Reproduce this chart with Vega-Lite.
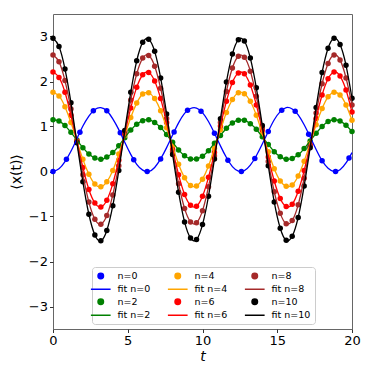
{
"$schema": "https://vega.github.io/schema/vega-lite/v6.json",
"width": 299, "height": 315,
"autosize": {"type": "none"},
"padding": {"left": 53, "top": 14, "right": 24, "bottom": 47},
"config": {
  "font": "DejaVu Sans",
  "view": {"stroke": "#666666", "strokeWidth": 1},
  "axis": {"grid": false, "domain": false, "tickColor": "#333333", "tickSize": 3.5, "labelFontSize": 13, "labelColor": "#000000", "titleFontSize": 14, "titleColor": "#000000", "titleFontWeight": "normal", "labelPadding": 2, "labelFlush": false}
},
"datasets": {
"fits": [
{"t":0,"n=2":1.15,"n=4":1.76,"n=6":2.21,"n=8":2.59,"n=10":2.96,"fit n=0":0,"fit n=2":1.15,"fit n=4":1.76,"fit n=6":2.21,"fit n=8":2.59,"fit n=10":2.96},
{"t":0.4,"n=2":1.12,"n=4":1.68,"n=6":2.09,"n=8":2.44,"n=10":2.78,"fit n=0":0.06,"fit n=2":1.12,"fit n=4":1.68,"fit n=6":2.09,"fit n=8":2.44,"fit n=10":2.78},
{"t":0.8,"n=2":1.02,"n=4":1.44,"n=6":1.76,"n=8":2.02,"n=10":2.28,"fit n=0":0.22,"fit n=2":1.02,"fit n=4":1.44,"fit n=6":1.76,"fit n=8":2.02,"fit n=10":2.28},
{"t":1.2,"n=2":0.87,"n=4":1.09,"n=6":1.25,"n=8":1.39,"n=10":1.53,"fit n=0":0.45,"fit n=2":0.87,"fit n=4":1.09,"fit n=6":1.25,"fit n=8":1.39,"fit n=10":1.53},
{"t":1.6,"n=2":0.70,"n=4":0.68,"n=6":0.67,"n=8":0.66,"n=10":0.64,"fit n=0":0.73,"fit n=2":0.70,"fit n=4":0.68,"fit n=6":0.67,"fit n=8":0.66,"fit n=10":0.64},
{"t":2.0,"n=2":0.53,"n=4":0.27,"n=6":0.09,"n=8":-0.07,"n=10":-0.23,"fit n=0":1.01,"fit n=2":0.53,"fit n=4":0.27,"fit n=6":0.09,"fit n=8":-0.07,"fit n=10":-0.23},
{"t":2.4,"n=2":0.39,"n=4":-0.06,"n=6":-0.40,"n=8":-0.68,"n=10":-0.95,"fit n=0":1.23,"fit n=2":0.39,"fit n=4":-0.06,"fit n=6":-0.40,"fit n=8":-0.68,"fit n=10":-0.95},
{"t":2.8,"n=2":0.30,"n=4":-0.28,"n=6":-0.70,"n=8":-1.06,"n=10":-1.41,"fit n=0":1.38,"fit n=2":0.30,"fit n=4":-0.28,"fit n=6":-0.70,"fit n=8":-1.06,"fit n=10":-1.41},
{"t":3.2,"n=2":0.27,"n=4":-0.34,"n=6":-0.79,"n=8":-1.17,"n=10":-1.54,"fit n=0":1.42,"fit n=2":0.27,"fit n=4":-0.34,"fit n=6":-0.79,"fit n=8":-1.17,"fit n=10":-1.54},
{"t":3.6,"n=2":0.32,"n=4":-0.23,"n=6":-0.64,"n=8":-0.98,"n=10":-1.31,"fit n=0":1.35,"fit n=2":0.32,"fit n=4":-0.23,"fit n=6":-0.64,"fit n=8":-0.98,"fit n=10":-1.31},
{"t":4.0,"n=2":0.42,"n=4":0.02,"n=6":-0.27,"n=8":-0.52,"n=10":-0.76,"fit n=0":1.17,"fit n=2":0.42,"fit n=4":0.02,"fit n=6":-0.27,"fit n=8":-0.52,"fit n=10":-0.76},
{"t":4.4,"n=2":0.57,"n=4":0.39,"n=6":0.25,"n=8":0.13,"n=10":0.02,"fit n=0":0.93,"fit n=2":0.57,"fit n=4":0.39,"fit n=6":0.25,"fit n=8":0.13,"fit n=10":0.02},
{"t":4.8,"n=2":0.75,"n=4":0.80,"n=6":0.84,"n=8":0.87,"n=10":0.91,"fit n=0":0.65,"fit n=2":0.75,"fit n=4":0.80,"fit n=6":0.84,"fit n=8":0.87,"fit n=10":0.91},
{"t":5.2,"n=2":0.92,"n=4":1.20,"n=6":1.41,"n=8":1.59,"n=10":1.76,"fit n=0":0.38,"fit n=2":0.92,"fit n=4":1.20,"fit n=6":1.41,"fit n=8":1.59,"fit n=10":1.76},
{"t":5.6,"n=2":1.05,"n=4":1.52,"n=6":1.87,"n=8":2.17,"n=10":2.46,"fit n=0":0.16,"fit n=2":1.05,"fit n=4":1.52,"fit n=6":1.87,"fit n=8":2.17,"fit n=10":2.46},
{"t":6.0,"n=2":1.13,"n=4":1.72,"n=6":2.15,"n=8":2.52,"n=10":2.87,"fit n=0":0.03,"fit n=2":1.13,"fit n=4":1.72,"fit n=6":2.15,"fit n=8":2.52,"fit n=10":2.87},
{"t":6.4,"n=2":1.15,"n=4":1.75,"n=6":2.20,"n=8":2.58,"n=10":2.94,"fit n=0":0.00,"fit n=2":1.15,"fit n=4":1.75,"fit n=6":2.20,"fit n=8":2.58,"fit n=10":2.94},
{"t":6.8,"n=2":1.09,"n=4":1.62,"n=6":2.01,"n=8":2.34,"n=10":2.67,"fit n=0":0.09,"fit n=2":1.09,"fit n=4":1.62,"fit n=6":2.01,"fit n=8":2.34,"fit n=10":2.67},
{"t":7.2,"n=2":0.98,"n=4":1.35,"n=6":1.62,"n=8":1.85,"n=10":2.08,"fit n=0":0.28,"fit n=2":0.98,"fit n=4":1.35,"fit n=6":1.62,"fit n=8":1.85,"fit n=10":2.08},
{"t":7.6,"n=2":0.82,"n=4":0.97,"n=6":1.09,"n=8":1.18,"n=10":1.28,"fit n=0":0.53,"fit n=2":0.82,"fit n=4":0.97,"fit n=6":1.09,"fit n=8":1.18,"fit n=10":1.28},
{"t":8.0,"n=2":0.65,"n=4":0.56,"n=6":0.49,"n=8":0.44,"n=10":0.38,"fit n=0":0.81,"fit n=2":0.65,"fit n=4":0.56,"fit n=6":0.49,"fit n=8":0.44,"fit n=10":0.38},
{"t":8.4,"n=2":0.48,"n=4":0.16,"n=6":-0.07,"n=8":-0.27,"n=10":-0.46,"fit n=0":1.08,"fit n=2":0.48,"fit n=4":0.16,"fit n=6":-0.07,"fit n=8":-0.27,"fit n=10":-0.46},
{"t":8.8,"n=2":0.35,"n=4":-0.14,"n=6":-0.51,"n=8":-0.82,"n=10":-1.12,"fit n=0":1.29,"fit n=2":0.35,"fit n=4":-0.14,"fit n=6":-0.51,"fit n=8":-0.82,"fit n=10":-1.12},
{"t":9.2,"n=2":0.28,"n=4":-0.31,"n=6":-0.75,"n=8":-1.12,"n=10":-1.48,"fit n=0":1.40,"fit n=2":0.28,"fit n=4":-0.31,"fit n=6":-0.75,"fit n=8":-1.12,"fit n=10":-1.48},
{"t":9.6,"n=2":0.28,"n=4":-0.32,"n=6":-0.77,"n=8":-1.14,"n=10":-1.51,"fit n=0":1.41,"fit n=2":0.28,"fit n=4":-0.32,"fit n=6":-0.77,"fit n=8":-1.14,"fit n=10":-1.51},
{"t":10.0,"n=2":0.34,"n=4":-0.17,"n=6":-0.55,"n=8":-0.87,"n=10":-1.18,"fit n=0":1.31,"fit n=2":0.34,"fit n=4":-0.17,"fit n=6":-0.55,"fit n=8":-0.87,"fit n=10":-1.18},
{"t":10.4,"n=2":0.46,"n=4":0.12,"n=6":-0.13,"n=8":-0.34,"n=10":-0.55,"fit n=0":1.11,"fit n=2":0.46,"fit n=4":0.12,"fit n=6":-0.13,"fit n=8":-0.34,"fit n=10":-0.55},
{"t":10.8,"n=2":0.63,"n=4":0.51,"n=6":0.42,"n=8":0.35,"n=10":0.28,"fit n=0":0.85,"fit n=2":0.63,"fit n=4":0.51,"fit n=6":0.42,"fit n=8":0.35,"fit n=10":0.28},
{"t":11.2,"n=2":0.80,"n=4":0.92,"n=6":1.01,"n=8":1.09,"n=10":1.17,"fit n=0":0.57,"fit n=2":0.80,"fit n=4":0.92,"fit n=6":1.01,"fit n=8":1.09,"fit n=10":1.17},
{"t":11.6,"n=2":0.96,"n=4":1.31,"n=6":1.56,"n=8":1.78,"n=10":1.99,"fit n=0":0.31,"fit n=2":0.96,"fit n=4":1.31,"fit n=6":1.56,"fit n=8":1.78,"fit n=10":1.99},
{"t":12.0,"n=2":1.08,"n=4":1.60,"n=6":1.98,"n=8":2.30,"n=10":2.61,"fit n=0":0.11,"fit n=2":1.08,"fit n=4":1.60,"fit n=6":1.98,"fit n=8":2.30,"fit n=10":2.61},
{"t":12.4,"n=2":1.14,"n=4":1.75,"n=6":2.19,"n=8":2.56,"n=10":2.93,"fit n=0":0.01,"fit n=2":1.14,"fit n=4":1.75,"fit n=6":2.19,"fit n=8":2.56,"fit n=10":2.93},
{"t":12.8,"n=2":1.14,"n=4":1.73,"n=6":2.17,"n=8":2.54,"n=10":2.90,"fit n=0":0.02,"fit n=2":1.14,"fit n=4":1.73,"fit n=6":2.17,"fit n=8":2.54,"fit n=10":2.90},
{"t":13.2,"n=2":1.06,"n=4":1.56,"n=6":1.92,"n=8":2.23,"n=10":2.52,"fit n=0":0.14,"fit n=2":1.06,"fit n=4":1.56,"fit n=6":1.92,"fit n=8":2.23,"fit n=10":2.52},
{"t":13.6,"n=2":0.94,"n=4":1.25,"n=6":1.48,"n=8":1.67,"n=10":1.86,"fit n=0":0.35,"fit n=2":0.94,"fit n=4":1.25,"fit n=6":1.48,"fit n=8":1.67,"fit n=10":1.86},
{"t":14.0,"n=2":0.77,"n=4":0.85,"n=6":0.92,"n=8":0.97,"n=10":1.02,"fit n=0":0.61,"fit n=2":0.77,"fit n=4":0.85,"fit n=6":0.92,"fit n=8":0.97,"fit n=10":1.02},
{"t":14.4,"n=2":0.60,"n=4":0.44,"n=6":0.32,"n=8":0.22,"n=10":0.13,"fit n=0":0.89,"fit n=2":0.60,"fit n=4":0.44,"fit n=6":0.32,"fit n=8":0.22,"fit n=10":0.13},
{"t":14.8,"n=2":0.44,"n=4":0.06,"n=6":-0.21,"n=8":-0.45,"n=10":-0.68,"fit n=0":1.15,"fit n=2":0.44,"fit n=4":0.06,"fit n=6":-0.21,"fit n=8":-0.45,"fit n=10":-0.68},
{"t":15.2,"n=2":0.33,"n=4":-0.21,"n=6":-0.60,"n=8":-0.93,"n=10":-1.26,"fit n=0":1.33,"fit n=2":0.33,"fit n=4":-0.21,"fit n=6":-0.60,"fit n=8":-0.93,"fit n=10":-1.26},
{"t":15.6,"n=2":0.27,"n=4":-0.33,"n=6":-0.78,"n=8":-1.16,"n=10":-1.53,"fit n=0":1.42,"fit n=2":0.27,"fit n=4":-0.33,"fit n=6":-0.78,"fit n=8":-1.16,"fit n=10":-1.53},
{"t":16.0,"n=2":0.29,"n=4":-0.30,"n=6":-0.73,"n=8":-1.09,"n=10":-1.44,"fit n=0":1.39,"fit n=2":0.29,"fit n=4":-0.30,"fit n=6":-0.73,"fit n=8":-1.09,"fit n=10":-1.44},
{"t":16.4,"n=2":0.37,"n=4":-0.10,"n=6":-0.44,"n=8":-0.74,"n=10":-1.02,"fit n=0":1.26,"fit n=2":0.37,"fit n=4":-0.10,"fit n=6":-0.44,"fit n=8":-0.74,"fit n=10":-1.02},
{"t":16.8,"n=2":0.51,"n=4":0.23,"n=6":0.02,"n=8":-0.15,"n=10":-0.32,"fit n=0":1.04,"fit n=2":0.51,"fit n=4":0.23,"fit n=6":0.02,"fit n=8":-0.15,"fit n=10":-0.32},
{"t":17.2,"n=2":0.68,"n=4":0.63,"n=6":0.59,"n=8":0.56,"n=10":0.53,"fit n=0":0.77,"fit n=2":0.68,"fit n=4":0.63,"fit n=6":0.59,"fit n=8":0.56,"fit n=10":0.53},
{"t":17.6,"n=2":0.85,"n=4":1.04,"n=6":1.18,"n=8":1.30,"n=10":1.42,"fit n=0":0.49,"fit n=2":0.85,"fit n=4":1.04,"fit n=6":1.18,"fit n=8":1.30,"fit n=10":1.42},
{"t":18.0,"n=2":1.00,"n=4":1.40,"n=6":1.70,"n=8":1.95,"n=10":2.20,"fit n=0":0.24,"fit n=2":1.00,"fit n=4":1.40,"fit n=6":1.70,"fit n=8":1.95,"fit n=10":2.20},
{"t":18.4,"n=2":1.11,"n=4":1.66,"n=6":2.06,"n=8":2.40,"n=10":2.74,"fit n=0":0.07,"fit n=2":1.11,"fit n=4":1.66,"fit n=6":2.06,"fit n=8":2.40,"fit n=10":2.74},
{"t":18.8,"n=2":1.15,"n=4":1.76,"n=6":2.21,"n=8":2.59,"n=10":2.96,"fit n=0":0.00,"fit n=2":1.15,"fit n=4":1.76,"fit n=6":2.21,"fit n=8":2.59,"fit n=10":2.96},
{"t":19.2,"n=2":1.12,"n=4":1.70,"n=6":2.12,"n=8":2.48,"n=10":2.82,"fit n=0":0.04,"fit n=2":1.12,"fit n=4":1.70,"fit n=6":2.12,"fit n=8":2.48,"fit n=10":2.82},
{"t":19.6,"n=2":1.03,"n=4":1.48,"n=6":1.81,"n=8":2.08,"n=10":2.36,"fit n=0":0.19,"fit n=2":1.03,"fit n=4":1.48,"fit n=6":1.81,"fit n=8":2.08,"fit n=10":2.36},
{"t":20.0,"n=2":0.89,"n=4":1.14,"n=6":1.32,"n=8":1.48,"n=10":1.63,"fit n=0":0.42,"fit n=2":0.89,"fit n=4":1.14,"fit n=6":1.32,"fit n=8":1.48,"fit n=10":1.63}
],
"blue": [
{"t":0,"n=0":0},{"t":0.9,"n=0":0.27},{"t":1.8,"n=0":0.87},{"t":2.7,"n=0":1.35},{"t":3.6,"n=0":1.35},{"t":4.5,"n=0":0.86},{"t":5.4,"n=0":0.26},{"t":6.3,"n=0":0.0},{"t":7.2,"n=0":0.28},{"t":8.1,"n=0":0.88},{"t":9.0,"n=0":1.36},{"t":9.9,"n=0":1.34},{"t":10.8,"n=0":0.85},{"t":11.7,"n=0":0.25},{"t":12.6,"n=0":0.0},{"t":13.5,"n=0":0.29},{"t":14.4,"n=0":0.89},{"t":15.3,"n=0":1.36},{"t":16.2,"n=0":1.34},{"t":17.1,"n=0":0.83},{"t":18.0,"n=0":0.24},{"t":18.9,"n=0":0.0},{"t":19.8,"n=0":0.30}
]
},
"encoding": {
  "x": {"field": "t", "type": "quantitative", "scale": {"domain": [0, 20], "nice": false, "zero": false}, "axis": {"values": [0, 5, 10, 15, 20], "title": "t", "titleFontStyle": "italic", "titlePadding": 2}},
  "y": {"field": "y", "type": "quantitative", "scale": {"domain": [-3.5, 3.5], "nice": false}, "axis": {"values": [-3, -2, -1, 0, 1, 2, 3], "title": "⟨x(t)⟩", "titlePadding": 5}},
  "color": {"field": "series", "type": "nominal",
    "scale": {"domain": ["n=0","fit n=0","n=2","fit n=2","n=4","fit n=4","n=6","fit n=6","n=8","fit n=8","n=10","fit n=10"],
              "range": ["#0000ff","#0000ff","#008000","#008000","#ffa500","#ffa500","#ff0000","#ff0000","#a52a2a","#a52a2a","#000000","#000000"]},
    "legend": {"orient": "none", "legendX": 39, "legendY": 253, "columns": 3, "title": null, "padding": 4,
      "strokeColor": "#cccccc", "fillColor": "#ffffff", "cornerRadius": 3, "labelFontSize": 9.5, "labelColor": "#000000",
      "labelOffset": 12, "columnPadding": 13, "rowPadding": 1.5, "symbolSize": 30, "symbolStrokeWidth": 1.5, "symbolOpacity": 1}
  }
},
"layer": [
  {"data": {"name": "blue"}, "transform": [{"fold": ["n=0"], "as": ["series", "y"]}],
   "mark": {"type": "point", "filled": true, "size": 30, "opacity": 1, "strokeWidth": 0},
   "encoding": {
     "shape": {"field": "series", "type": "nominal", "scale": {"domain": ["n=0","fit n=0","n=2","fit n=2","n=4","fit n=4","n=6","fit n=6","n=8","fit n=8","n=10","fit n=10"], "range": ["circle","M-3.6,0H3.6","circle","M-3.6,0H3.6","circle","M-3.6,0H3.6","circle","M-3.6,0H3.6","circle","M-3.6,0H3.6","circle","M-3.6,0H3.6"]}, "legend": {"orient": "none", "legendX": 39, "legendY": 253, "columns": 3, "title": null}},
     "stroke": {"field": "series", "type": "nominal", "scale": {"domain": ["n=0","fit n=0","n=2","fit n=2","n=4","fit n=4","n=6","fit n=6","n=8","fit n=8","n=10","fit n=10"], "range": ["#0000ff","#0000ff","#008000","#008000","#ffa500","#ffa500","#ff0000","#ff0000","#a52a2a","#a52a2a","#000000","#000000"]}, "legend": {"orient": "none", "legendX": 39, "legendY": 253, "columns": 3, "title": null}}
   }},
  {"data": {"name": "fits"}, "transform": [{"fold": ["n=2", "n=4", "n=6", "n=8", "n=10"], "as": ["series", "y"]}],
   "mark": {"type": "point", "filled": true, "size": 30, "opacity": 1, "strokeWidth": 0},
   "encoding": {
     "shape": {"field": "series", "type": "nominal"},
     "stroke": {"field": "series", "type": "nominal"}
   }},
  {"data": {"name": "fits"}, "transform": [{"fold": ["fit n=0", "fit n=2", "fit n=4", "fit n=6", "fit n=8", "fit n=10"], "as": ["series", "y"]}],
   "mark": {"type": "line", "strokeWidth": 1.3, "interpolate": "natural"}}
]
}
